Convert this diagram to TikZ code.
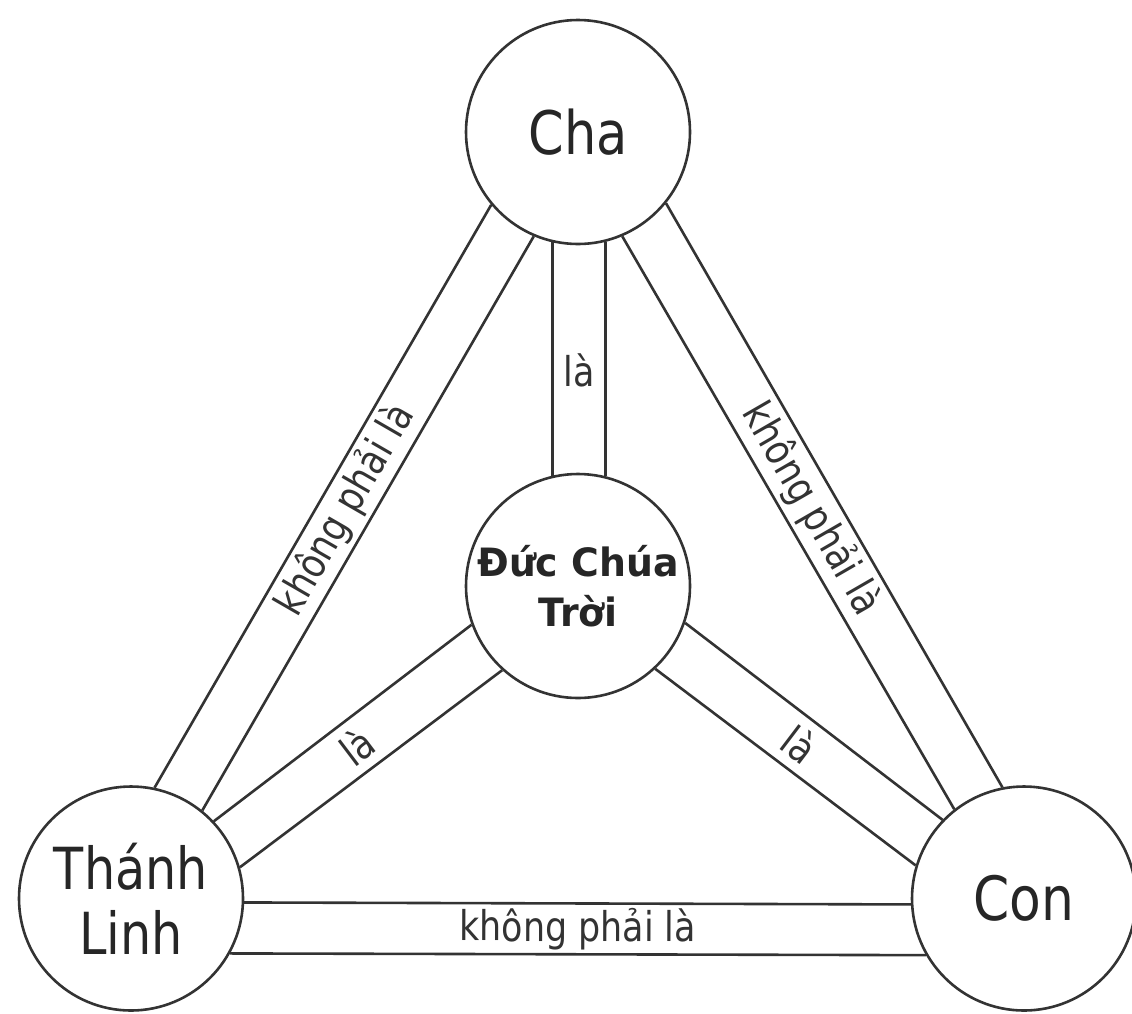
\documentclass[tikz,border=0pt]{standalone}
\usepackage{fontspec}
\setmainfont{DejaVu Sans}[FakeStretch=0.85]
\newfontfamily\dctfont{DejaVu Sans}[FakeStretch=0.97]
\usetikzlibrary{calc}
\begin{document}
\begin{tikzpicture}[x=1pt,y=-1pt,
  person/.style={circle, draw=black!80, line width=2.6pt, minimum size=224pt, inner sep=0pt, fill=white, text=black!85, align=center},
  band/.style={draw=black!80, line width=2.6pt},
  lbl/.style={font=\fontsize{41}{44}\selectfont, text=black!80, inner sep=0pt}]
\useasboundingbox (0,0) rectangle (1132,1013);
\fill[white] (0,0) rectangle (1132,1013);
% circles
\node[person, font=\fontsize{60}{66}\selectfont] (cha) at (578,132) {Cha};
\node[person, font=\dctfont\bfseries\fontsize{39}{50}\selectfont] (dct) at (578,586) {Đức Chúa\\Trời};
\node[person, font=\fontsize{58}{65}\selectfont] (tl) at (131,898.5) {Thánh\\Linh};
\node[person, font=\fontsize{61}{66}\selectfont] (con) at (1024,898.5) {Con};
% Cha -- DCT
\draw[band] (cha.-103.5) -- (dct.103.5);
\draw[band] (cha.-76.5) -- (dct.76.5);
\path ($(cha.-103.5)!.5!(cha.-76.5)$) -- ($(dct.103.5)!.5!(dct.76.5)$) node[pos=.55, lbl] {là};
% TL -- Cha
\draw[band] (tl.78.2) -- (cha.-140.6);
\draw[band] (tl.51.4) -- (cha.-113);
\path ($(tl.78.2)!.5!(tl.51.4)$) -- ($(cha.-140.6)!.5!(cha.-113)$) node[midway, sloped, lbl] {không phải là};
% Cha -- Con
\draw[band] (cha.-39.4) -- (con.101.8);
\draw[band] (cha.-67) -- (con.128.6);
\path ($(cha.-39.4)!.5!(cha.-67)$) -- ($(con.101.8)!.5!(con.128.6)$) node[midway, sloped, lbl] {không phải là};
% TL -- DCT
\draw[band] (tl.43.8) -- (dct.-160.4);
\draw[band] (tl.16.4) -- (dct.-132.5);
\path ($(tl.43.8)!.5!(tl.16.4)$) -- ($(dct.-160.4)!.5!(dct.-132.5)$) node[midway, sloped, lbl] {là};
% DCT -- Con
\draw[band] (dct.-19.6) -- (con.136.2);
\draw[band] (dct.-47.5) -- (con.163.6);
\path ($(dct.-19.6)!.5!(dct.-47.5)$) -- ($(con.136.2)!.5!(con.163.6)$) node[midway, sloped, lbl] {là};
% TL -- Con
\draw[band] (tl.-2.3) -- (con.-177.7);
\draw[band] (tl.-29.7) -- (con.-150.3);
\path ($(tl.-2.3)!.5!(tl.-29.7)$) -- ($(con.-177.7)!.5!(con.-150.3)$) node[midway, sloped, lbl] {không phải là};
\end{tikzpicture}
\end{document}
